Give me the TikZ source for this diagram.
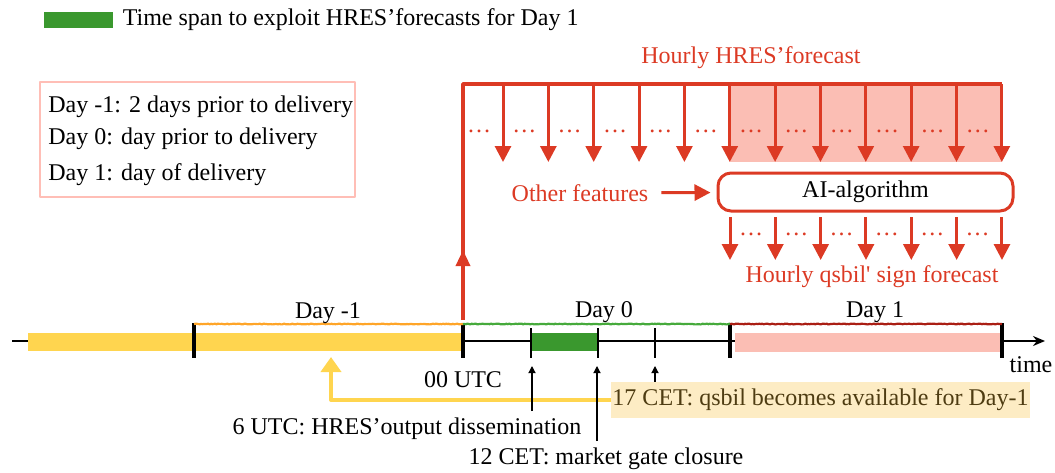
\documentclass[tikz,border=0pt]{standalone}
\usepackage{fontspec}
\setmainfont{Liberation Serif}
\newfontfamily\plainfont{Liberation Serif}
\usetikzlibrary{arrows.meta,decorations.pathmorphing,positioning}
\definecolor{hresred}{RGB}{220,58,36}
\definecolor{hresshade}{RGB}{251,190,180}
\definecolor{spangreen}{RGB}{58,152,46}
\definecolor{dayyellow}{RGB}{255,213,79}
\definecolor{boxpink}{RGB}{255,190,182}
\definecolor{notefill}{RGB}{253,236,196}
\definecolor{notetext}{RGB}{78,60,18}
\definecolor{dayorange}{RGB}{255,165,40}
\definecolor{daygreen}{RGB}{70,170,60}
\definecolor{dayred}{RGB}{170,30,20}
\begin{document}
\begin{tikzpicture}[x=0.5pt,y=-0.5pt,line join=round,>=Stealth,
    font=\fontsize{12}{16}\selectfont,
    redarrow/.style={hresred,line width=1.5pt,-{Triangle[width=8pt,length=8pt]}},
    blackarrow/.style={line width=0.6pt,-{Triangle[width=3.6pt,length=3.6pt]}},
    yellowarrow/.style={dayyellow,line width=2pt,-{Triangle[width=10pt,length=7.5pt]}},
    dayline/.style={line width=1.1pt,decorate,decoration={random steps,segment length=0.7pt,amplitude=0.2pt}},
    daytick/.style={line width=2pt},
    hourtick/.style={line width=0.8pt},
    redtext/.style={text=hresred},
    dots/.style={hresred,inner sep=1pt}]
  \useasboundingbox (0,0) rectangle (1055,472);

  \node[fill=spangreen,minimum width=34.5pt,minimum height=8pt,inner sep=0pt] (span) at (78.5,20) {};
  \node[right=4.5pt of span,inner sep=0pt] (spanlabel) {Time span to exploit HRES’forecasts for Day 1};

  \draw[boxpink,line width=1pt] (40,82) rectangle (355,197);
  \node[anchor=west,inner sep=0pt] (daym1) at (48,107) {Day -1: 2 days prior to delivery};
  \node[anchor=west,inner sep=0pt] (day0) at (48,139) {Day 0: day prior to delivery};
  \node[anchor=west,inner sep=0pt] (day1) at (48,175) {Day 1: day of delivery};

  \node[redtext] (hreslabel) at (751,58) {Hourly HRES’forecast};
  \coordinate (base) at (463,320);
  \coordinate (mid) at (463,250);
  \coordinate (corner) at (463,84);
  \coordinate (topend) at (1002,84);
  \fill[hresshade] (730,84) rectangle (1002,162);
  \draw[hresred,line width=1.7pt] (base) -- (corner) -- (topend);
  \draw[hresred,line width=1.7pt,-{Triangle[width=7pt,length=8pt]}] (base) -- (mid);
  \foreach \k in {0,...,11}{
    \pgfmathsetmacro\xa{503+45.35*\k}
    \coordinate (in\k) at (\xa,84);
    \coordinate (out\k) at (\xa,162);
    \draw[redarrow] (in\k) -- (out\k);
    \node[dots] (hdot\k) at (\xa-24,131) {…};
  }

  \node[redtext] (other) at (580,193) {Other features};
  \node[draw=hresred,line width=1.5pt,rounded corners=6.5pt,minimum width=147.5pt,minimum height=19pt] (ai) at (865.5,192) {AI-algorithm};
  \draw[redarrow,shorten >=3pt,shorten <=3pt] (other) -- (ai);
  \foreach \k in {0,...,6}{
    \pgfmathsetmacro\xb{730+45.33*\k}
    \coordinate (sig\k) at (\xb,217);
    \coordinate (sigtip\k) at (\xb,260);
    \draw[redarrow] (sig\k) -- (sigtip\k);
  }
  \foreach \k in {0,...,5}
    \node[dots] (sdot\k) at (751+45.33*\k,234) {…};
  \node[redtext] (siglabel) at (872,277) {Hourly qsbil{\plainfont'} sign forecast};

  \coordinate (start) at (12,341);
  \coordinate (tip) at (1045,341);
  \draw[line width=0.9pt,-{Stealth[length=6pt,width=5pt]}] (start) -- (tip);
  \fill[dayyellow] (28,333) rectangle (463,351);
  \fill[spangreen] (531,333) rectangle (598,351);
  \fill[hresshade] (735,333) rectangle (1000,352);
  \foreach \x in {194,463,730,1002}
    \draw[daytick] (\x,323) -- (\x,358);
  \foreach \x in {531,598,655}
    \draw[hourtick] (\x,328) -- (\x,358);
  \draw[dayline,dayorange] (194,324) -- (463,324);
  \draw[dayline,daygreen] (463,324) -- (730,324);
  \draw[dayline,dayred] (730,324) -- (1002,324);
  \node (labm1) at (328,313) {Day -1};
  \node (lab0) at (604,312) {Day 0};
  \node (lab1) at (875,312) {Day 1};
  \node (utc) at (463,380) {00 UTC};
  \node (time) at (1031,365) {time};

  \node (dissem) at (407,429) {6 UTC: HRES’output dissemination};
  \node (gate) at (606,459) {12 CET: market gate closure};
  \node[fill=notefill,text=notetext,inner xsep=0.5pt,minimum height=12.5pt] (qsbil) at (820.5,400) {17 CET: qsbil becomes available for Day-1};
  \coordinate (relay) at (331,357);
  \draw[yellowarrow] (qsbil.west) -| (relay);
  \coordinate (h6) at (532,366);
  \coordinate (h12) at (597,366);
  \coordinate (h17) at (655,366);
  \draw[blackarrow] (dissem.north -| h6) -- (h6);
  \draw[blackarrow] (gate.north -| h12) -- (h12);
  \draw[blackarrow] (qsbil.north -| h17) -- (h17);
\end{tikzpicture}
\end{document}
